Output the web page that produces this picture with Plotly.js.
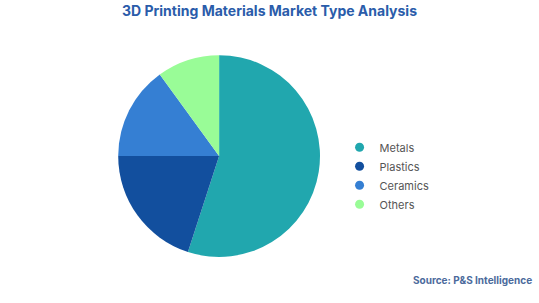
<!DOCTYPE html>
<html>
<head>
<meta charset="utf-8">
<script src="https://cdn.plot.ly/plotly-3.0.1.min.js"></script>
<style>html,body{margin:0;padding:0;background:#fff;}#chart{width:539px;height:303px;}</style>
</head>
<body>
<div id="chart"></div>
<script>
const categories = ["Metals", "Plastics", "Ceramics", "Others"];
const shares = [55, 20, 15, 10];
const colors = ["#21a7ae", "#124f9e", "#357fd3", "#99fc97"];

const pieTrace = {
  type: "pie",
  labels: categories,
  values: shares,
  sort: false,
  direction: "clockwise",
  rotation: 0,
  marker: { colors: colors, line: { width: 0 } },
  textinfo: "none",
  hoverinfo: "label+percent",
  showlegend: false,
  domain: { x: [0.219, 0.594], y: [0.152, 0.818] }
};

const legendTraces = categories.map((c, i) => ({
  type: "scatter",
  mode: "markers",
  x: [null], y: [null],
  name: c,
  marker: { symbol: "circle", size: 9, color: colors[i] },
  showlegend: true,
  hoverinfo: "skip"
}));

const layout = {
  width: 539, height: 303,
  margin: { l: 0, r: 0, t: 0, b: 0 },
  paper_bgcolor: "#ffffff",
  plot_bgcolor: "#ffffff",
  xaxis: { visible: false },
  yaxis: { visible: false },
  title: {
    text: "<b>3D Printing Materials Market Type Analysis</b>",
    font: { family: "Inter, 'Open Sans', sans-serif", size: 14, color: "#2a5caa" },
    x: 0.5, xanchor: "center", y: 0.962, yanchor: "middle"
  },
  legend: {
    x: 0.63, xanchor: "left", y: 0.42, yanchor: "middle",
    font: { family: "Inter, 'Open Sans', sans-serif", size: 11, color: "#555555" },
    itemclick: false, itemdoubleclick: false,
    itemwidth: 30,
    tracegroupgap: 0
  },
  annotations: [{
    text: "<b>Source: P&S Intelligence</b>",
    xref: "paper", yref: "paper",
    x: 0.99, xanchor: "right", y: 0.073, yanchor: "middle",
    showarrow: false,
    font: { family: "Inter, 'Open Sans', sans-serif", size: 10, color: "#4b6a9c" }
  }]
};

Plotly.newPlot("chart", [pieTrace].concat(legendTraces), layout, { displayModeBar: false, staticPlot: true });
</script>
</body>
</html>
